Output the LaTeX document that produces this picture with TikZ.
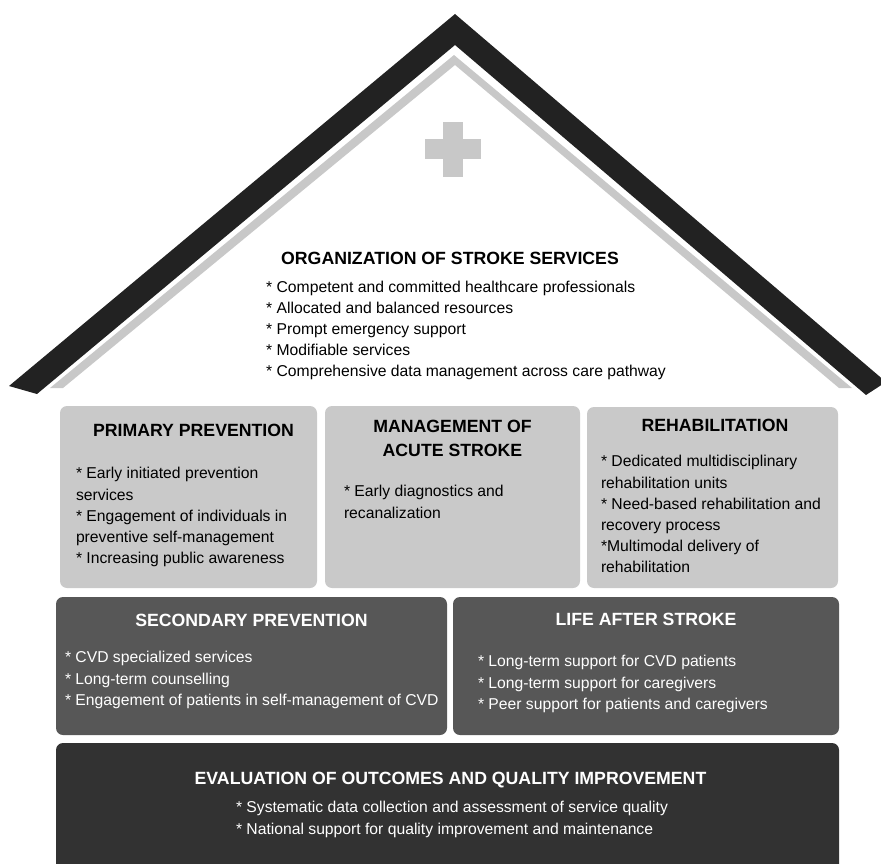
\documentclass[tikz,border=0pt]{standalone}
\usepackage{fontspec}
\setmainfont{Liberation Sans}
\usetikzlibrary{positioning, calc}
\definecolor{roofdark}{HTML}{222222}
\definecolor{roofgrey}{HTML}{C8C8C8}
\definecolor{boxlight}{HTML}{C9C9C9}
\definecolor{boxmid}{HTML}{575757}
\definecolor{boxdark}{HTML}{323232}
\tikzset{
	box/.style={rectangle, rounded corners=7pt, inner sep=0pt},
	lightbox/.style={box, fill=boxlight},
	midbox/.style={box, fill=boxmid},
	darkbox/.style={box, fill=boxdark},
	head/.style={anchor=base, align=center, inner sep=0pt, font=\bfseries\fontsize{17.7}{24}\selectfont},
	items/.style={anchor=base west, align=left, inner sep=0pt, font=\fontsize{15.7}{21.2}\selectfont},
}

\begin{document}
\begin{tikzpicture}[x=1pt, y=-1pt]
	\useasboundingbox (0,0) rectangle (881,864);
	\clip (0,0) rectangle (881,864);

	% roof
	\fill[roofdark] (9,386) -- (455,14) -- (886,382) -- (866,395) -- (455,45) -- (37,394) -- cycle;
	\fill[roofgrey] (50,388) -- (454,55) -- (852,388) -- (839,388) -- (455,65) -- (63,388) -- cycle;
	\fill[roofgrey] (443,122) rectangle (463,177);
	\fill[roofgrey] (425,139) rectangle (481,159);

	% base of a multi-line node = its last line
	\node[head] (t0) at (450,264) {ORGANIZATION OF STROKE SERVICES};
	\node[items] (l0) at (266,376.8) {* Competent and committed healthcare professionals\\
		* Allocated and balanced resources\\
		* Prompt emergency support\\
		* Modifiable services\\
		* Comprehensive data management across care pathway};

	% first row
	\node[lightbox, minimum width=257pt, minimum height=182pt] (PRIMARY) at (188.5,497) {};
	\node[lightbox, minimum width=255pt, minimum height=182pt] (ACUTE) at (452.5,497) {};
	\node[lightbox, minimum width=251pt, minimum height=181pt] (REHAB) at (712.5,497.5) {};

	\node[head] (t1) at ($(PRIMARY.north)+(5,31)$) {PRIMARY PREVENTION};
	\node[items] (l1) at ($(PRIMARY.north west)+(16,157.8)$) {* Early initiated prevention\\
		services\\
		* Engagement of individuals in\\
		preventive self-management\\
		* Increasing public awareness};
	\node[head] (t2) at ($(ACUTE.north)+(0,51)$) {MANAGEMENT OF\\ ACUTE STROKE};
	\node[items] (l2) at ($(ACUTE.north west)+(19,112.2)$) {* Early diagnostics and\\
		recanalization};
	\node[head] (t3) at ($(REHAB.north)+(2.5,25)$) {REHABILITATION};
	\node[items] (l3) at ($(REHAB.north west)+(14,166)$) {* Dedicated multidisciplinary\\
		rehabilitation units\\
		* Need-based rehabilitation and\\
		recovery process\\
		*Multimodal delivery of\\
		rehabilitation};

	% second row
	\node[midbox, minimum width=391pt, minimum height=138pt] (SECONDARY) at (251.5,666) {};
	\node[midbox, minimum width=386pt, minimum height=138pt] (LIFE) at (646,666) {};

	\node[head, white] (t4) at ($(SECONDARY.north)+(0,30)$) {SECONDARY PREVENTION};
	\node[items, white] (l4) at ($(SECONDARY.north west)+(9,108.4)$) {* CVD specialized services\\
		* Long-term counselling\\
		* Engagement of patients in self-management of CVD};
	\node[head, white] (t5) at ($(LIFE.north)+(0,29)$) {LIFE AFTER STROKE};
	\node[items, white] (l5) at ($(LIFE.north west)+(25,112.4)$) {* Long-term support for CVD patients\\
		* Long-term support for caregivers\\
		* Peer support for patients and caregivers};

	% base
	\node[darkbox, minimum width=783pt, minimum height=150pt] (EVAL) at (447.5,818) {};
	\node[head, white] (t6) at ($(EVAL.north)+(3,42)$) {EVALUATION OF OUTCOMES AND QUALITY IMPROVEMENT};
	\node[items, white] (l6) at ($(EVAL.north west)+(180,91.2)$) {* Systematic data collection and assessment of service quality\\
		* National support for quality improvement and maintenance};
\end{tikzpicture}
\end{document}
